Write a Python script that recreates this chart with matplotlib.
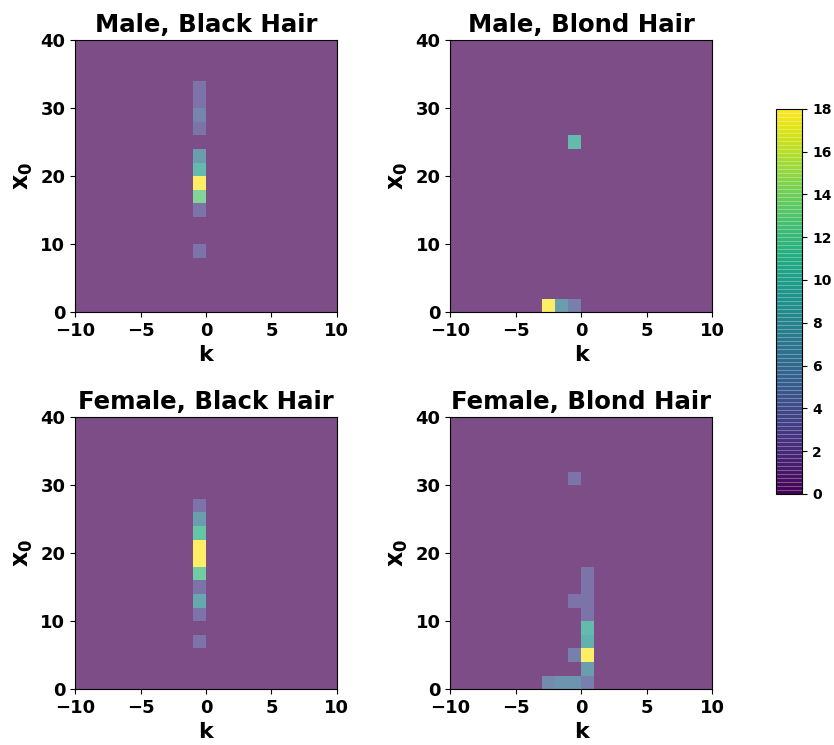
import numpy as np
import matplotlib
matplotlib.use('Agg')
import matplotlib.pyplot as plt

plt.rcParams['font.weight'] = 'bold'
plt.rcParams['axes.labelweight'] = 'bold'
plt.rcParams['axes.titleweight'] = 'bold'

# bin edges
k_edges = np.arange(-10, 11, 1)
x0_edges = np.arange(0, 42, 2)

# (k bin centre, x0 bin centre, count) for each group
mb_k = [-0.5, -0.5, -0.5, -0.5, -0.5, -0.5, -0.5, -0.5, -0.5, -0.5]
mb_x0 = [33, 31, 29, 27, 23, 21, 19, 17, 15, 9]
mb_n = [3, 3, 4.5, 3, 7, 10, 18, 13, 3, 3]

mbl_k = [-0.5, -2.5, -1.5, -0.5]
mbl_x0 = [25, 1, 1, 1]
mbl_n = [10, 18, 7, 4]

fb_k = [-0.5] * 10
fb_x0 = [27, 25, 23, 21, 19, 17, 15, 13, 11, 7]
fb_n = [3, 7, 11, 18, 18, 12, 3, 8, 3, 3]

fbl_k = [-0.5, 0.5, 0.5, 0.5, 0.5, -0.5, 0.5, 0.5, 0.5, -0.5, 0.5, -2.5, -1.5, -0.5, 0.5]
fbl_x0 = [31, 17, 15, 13, 11, 13, 9, 7, 5, 5, 3, 1, 1, 1, 1]
fbl_n = [3, 3, 3, 3, 3, 3, 10, 9, 18, 4, 7, 5, 6, 6, 4]

groups = [
    ("Male, Black Hair", mb_k, mb_x0, mb_n),
    ("Male, Blond Hair", mbl_k, mbl_x0, mbl_n),
    ("Female, Black Hair", fb_k, fb_x0, fb_n),
    ("Female, Blond Hair", fbl_k, fbl_x0, fbl_n),
]

fig = plt.figure(figsize=(8.34, 7.45), dpi=100)
lefts = [0.09, 0.54]
bottoms = [0.581, 0.075]
w, h = 0.314, 0.365

for i, (title, k, x0, n) in enumerate(groups):
    ax = fig.add_axes([lefts[i % 2], bottoms[i // 2], w, h])
    ax.hist2d(k, x0, bins=[k_edges, x0_edges], weights=n,
              cmap='viridis', alpha=0.7, vmin=0, vmax=18)
    ax.set_title(title, fontsize=17.6, fontweight='bold')
    ax.set_xlabel('k', fontsize=16, fontweight='bold')
    ax.set_ylabel(r'$\mathbf{x_0}$', fontsize=17)
    ax.set_xticks([-10, -5, 0, 5, 10])
    ax.set_yticks([0, 10, 20, 30, 40])
    ax.tick_params(labelsize=13)
    for lab in ax.get_xticklabels() + ax.get_yticklabels():
        lab.set_fontweight('bold')

# colorbar drawn at full opacity, in many thin bands
sm = plt.cm.ScalarMappable(cmap='viridis', norm=plt.Normalize(0, 18))
cax = fig.add_axes([0.930, 0.337, 0.032, 0.517])
cb = fig.colorbar(sm, cax=cax, boundaries=np.linspace(0, 18, 97))
cb.solids.set_edgecolor((1, 1, 1, 0.3))
cb.solids.set_linewidth(0.4)
cb.set_ticks(range(0, 19, 2))
cb.ax.tick_params(labelsize=10)
for lab in cb.ax.get_yticklabels():
    lab.set_fontweight('bold')

fig.savefig('out.png', dpi=100)
